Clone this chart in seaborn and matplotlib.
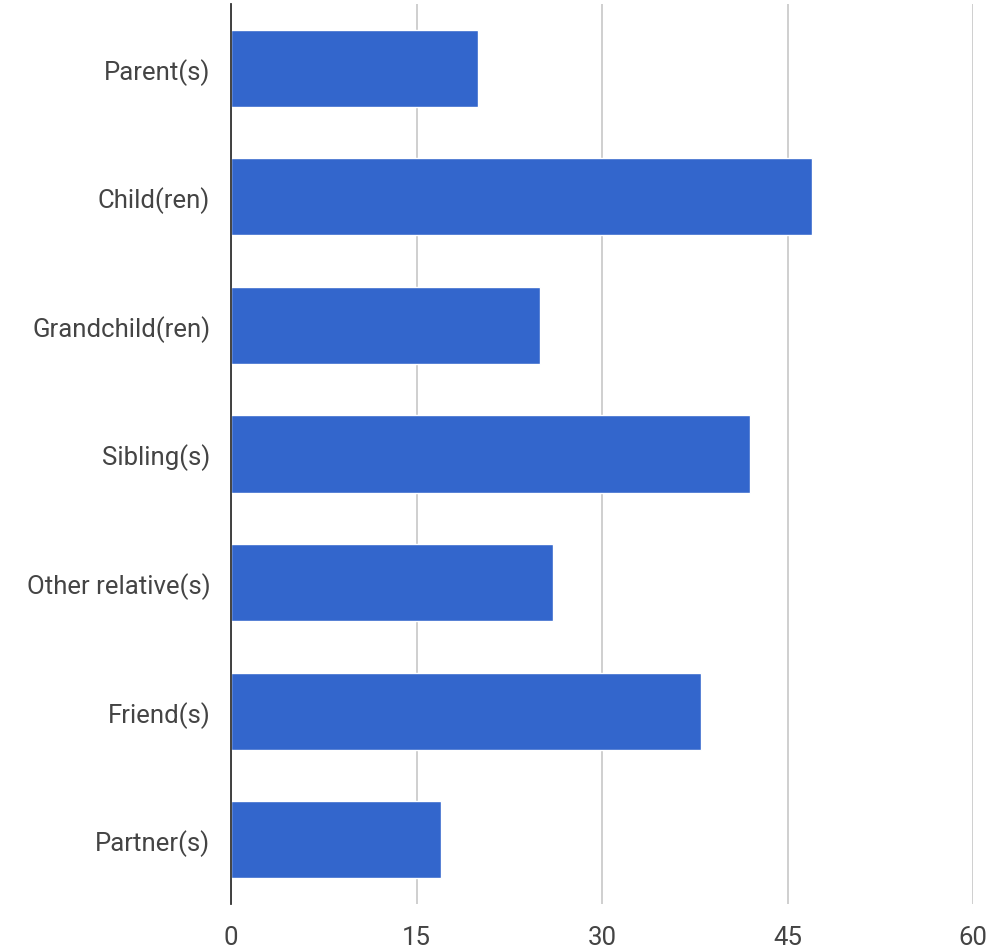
import matplotlib
matplotlib.use("Agg")
import matplotlib.pyplot as plt
import seaborn as sns
import pandas as pd

categories = ["Parent(s)", "Child(ren)", "Grandchild(ren)", "Sibling(s)",
              "Other relative(s)", "Friend(s)", "Partner(s)"]
values = [20, 47, 25, 42, 26, 38, 17]
x_ticks = [0, 15, 30, 45, 60]

df = pd.DataFrame({"category": categories, "value": values})

sns.set_theme(style="white")
plt.rcParams["font.family"] = ["Roboto", "DejaVu Sans"]

fig = plt.figure(figsize=(9.97, 9.53), dpi=100)
ax = fig.add_axes([231 / 997, 1 - 905 / 953, (973 - 231) / 997, 900 / 953])

sns.barplot(data=df, x="value", y="category", order=categories,
            color="#3366CC", saturation=1, width=0.6, ax=ax)

ax.set_xlim(0, 60)
ax.set_xticks(x_ticks)
ax.set_xticklabels([str(t) for t in x_ticks])
ax.xaxis.grid(True, color="#cccccc", linewidth=1.3)
ax.yaxis.grid(False)
ax.set_axisbelow(True)
for s in ["top", "right", "bottom"]:
    ax.spines[s].set_visible(False)
ax.spines["left"].set_color("#333333")
ax.spines["left"].set_linewidth(1.3)
ax.set_xlabel("")
ax.set_ylabel("")
ax.tick_params(axis="x", length=0, pad=15, labelsize=18.5, labelcolor="#444444")
ax.tick_params(axis="y", length=0, pad=15, labelsize=18.5, labelcolor="#444444")

fig.savefig("out.png", dpi=100, facecolor="white")
